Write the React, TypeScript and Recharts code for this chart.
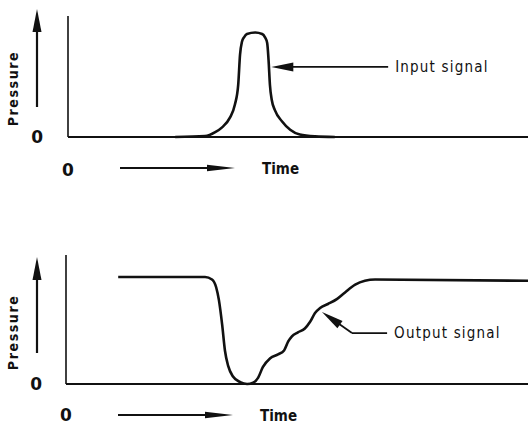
import React from 'react';
import { LineChart, Line, XAxis, YAxis, ReferenceLine } from 'recharts';

// ---- Data (time 0-100, pressure 0-100, arbitrary units) ----
const inputTime = [23.3, 29.8, 32.0, 33.5, 35.2, 36.3, 37.0, 37.4, 37.8, 38.3, 38.9, 40.7, 42.2, 42.8, 43.3, 43.6, 43.9, 44.3, 45.0, 46.5, 48.3, 50.4, 53.7, 58.0];
const inputPressure = [0, 0.8, 4, 8, 16, 27, 43, 68, 78.5, 82.6, 85.1, 86.4, 85.1, 82.6, 77.7, 63.6, 43, 30.6, 22, 13, 6, 2, 0.5, 0];

const outputTime = [11.3, 30.1, 31.6, 32.5, 33.1, 33.8, 34.4, 35.1, 36.1, 37.7, 39.2, 40.5, 41.6, 42.6, 44.2, 45.9, 47.2, 48.1, 48.9, 50.2, 51.7, 52.8, 53.9, 55.0, 56.7, 58.7, 60.4, 62.6, 64.7, 66.9, 100];
const outputPressure = [83, 83, 81, 75, 65, 46, 26, 14, 6, 1.5, 0, 1, 5, 13, 20, 23, 26, 33, 37, 40, 43, 48, 55, 59, 62, 66, 71, 77, 80, 81, 80];

const yTicks = [0];
const xTicks = [0];

const inputLabel = 'Input signal';
const outputLabel = 'Output signal';
const yLabel = 'Pressure';
const xLabel = 'Time';

const inputData = inputTime.map((t, i) => ({ t, p: inputPressure[i] }));
const outputData = outputTime.map((t, i) => ({ t, p: outputPressure[i] }));

const FONT = '"DejaVu Sans Condensed", "DejaVu Sans", sans-serif';
const INK = '#111';

function head(tx: number, ty: number, fx: number, fy: number, len: number, half: number) {
  const dx = tx - fx;
  const dy = ty - fy;
  const d = Math.sqrt(dx * dx + dy * dy) || 1;
  const ux = dx / d;
  const uy = dy / d;
  const bx = tx - ux * len;
  const by = ty - uy * len;
  const px = -uy * half;
  const py = ux * half;
  return `${tx},${ty} ${bx + px},${by + py} ${bx - px},${by - py}`;
}

function shorten(x1: number, y1: number, x2: number, y2: number, by: number) {
  const dx = x2 - x1;
  const dy = y2 - y1;
  const d = Math.sqrt(dx * dx + dy * dy) || 1;
  return { x: x2 - (dx / d) * by, y: y2 - (dy / d) * by };
}

function makeYLabel(arrowTop: number, arrowBottom: number) {
  return (props: any) => {
    const vb = props.viewBox || { x: 0, y: 0, width: 68, height: 120 };
    const cx = vb.x + 13;
    const cy = vb.y + vb.height * 0.6;
    const ax = vb.x + 37;
    const t = vb.y + arrowTop;
    const b = vb.y + arrowBottom;
    return (
      <g>
        <text
          x={cx}
          y={cy}
          transform={`rotate(-90 ${cx} ${cy})`}
          textAnchor="middle"
          dominantBaseline="central"
          fontFamily={FONT}
          fontWeight="bold"
          fontSize={14}
          letterSpacing={1.6}
          fill={INK}
        >
          {yLabel}
        </text>
        <line x1={ax} y1={b} x2={ax} y2={t + 15} stroke={INK} strokeWidth={2.2} />
        <polygon points={head(ax, t, ax, b, 23, 4.5)} fill={INK} />
      </g>
    );
  };
}

function XLabel(props: any) {
  const vb = props.viewBox || { x: 68, y: 137, width: 460, height: 60 };
  const y = vb.y + 31;
  const x1 = vb.x + 52;
  const x2 = vb.x + 167;
  return (
    <g>
      <line x1={x1} y1={y} x2={x2 - 20} y2={y} stroke={INK} strokeWidth={2} />
      <polygon points={head(x2, y, x1, y, 28, 3.2)} fill={INK} />
      <text
        x={vb.x + 194}
        y={y + 1}
        dominantBaseline="central"
        fontFamily={FONT}
        fontWeight="bold"
        fontSize={15}
        fill={INK}
      >
        {xLabel}
      </text>
    </g>
  );
}

function makeArrowShape(label: string | null, withHead: boolean) {
  return (props: any) => {
    const { x1, y1, x2, y2 } = props;
    if (x1 == null) return <g />;
    const end = withHead ? shorten(x1, y1, x2, y2, 18) : { x: x2, y: y2 };
    return (
      <g>
        <line x1={x1} y1={y1} x2={end.x} y2={end.y} stroke={INK} strokeWidth={1.8} />
        {withHead && <polygon points={head(x2, y2, x1, y1, 22, 4.5)} fill={INK} />}
        {label && (
          <text
            x={x1 + 7}
            y={y1}
            dominantBaseline="central"
            fontFamily={FONT}
            fontSize={15}
            letterSpacing={1.2}
            fill={INK}
          >
            {label}
          </text>
        )}
      </g>
    );
  };
}

const tickStyle = { fill: INK, fontSize: 17, fontWeight: 'bold' as const, fontFamily: '"DejaVu Sans", sans-serif' };

export default function App() {
  return (
    <div style={{ position: 'absolute', left: 0, top: 0, width: 528, height: 426, background: '#fff', overflow: 'hidden' }}>
      <div style={{ position: 'absolute', left: 0, top: 0 }}>
        <LineChart width={528} height={200} data={inputData} margin={{ top: 16, right: 0, left: 0, bottom: 3 }}>
          <XAxis
            type="number"
            dataKey="t"
            domain={[0, 100]}
            ticks={xTicks}
            tickSize={0}
            tickMargin={27}
            tickLine={false}
            axisLine={{ stroke: INK, strokeWidth: 2 }}
            tick={tickStyle}
            height={60}
            label={{ content: XLabel } as any}
          />
          <YAxis
            type="number"
            domain={[0, 100]}
            ticks={yTicks}
            tickSize={0}
            tickMargin={25}
            tickLine={false}
            axisLine={{ stroke: INK, strokeWidth: 1.6 }}
            tick={tickStyle}
            width={68}
            label={{ content: makeYLabel(-7, 91) } as any}
          />
          <Line type="monotone" dataKey="p" stroke={INK} strokeWidth={2.6} dot={false} isAnimationActive={false} />
          <ReferenceLine
            segment={[{ x: 69.6, y: 57.9 }, { x: 44.2, y: 57.9 }]}
            shape={makeArrowShape(inputLabel, true)}
          />
        </LineChart>
      </div>
      <div style={{ position: 'absolute', left: 0, top: 230 }}>
        <LineChart width={528} height={196} data={outputData} margin={{ top: 25, right: 0, left: 0, bottom: 0 }}>
          <XAxis
            type="number"
            dataKey="t"
            domain={[0, 100]}
            ticks={xTicks}
            tickSize={0}
            tickMargin={25}
            tickLine={false}
            axisLine={{ stroke: INK, strokeWidth: 2 }}
            tick={tickStyle}
            height={42}
            label={{ content: XLabel } as any}
          />
          <YAxis
            type="number"
            domain={[0, 100]}
            ticks={yTicks}
            tickSize={0}
            tickMargin={24}
            tickLine={false}
            axisLine={{ stroke: INK, strokeWidth: 1.6 }}
            tick={tickStyle}
            width={66}
            label={{ content: makeYLabel(2, 98) } as any}
          />
          <Line type="monotone" dataKey="p" stroke={INK} strokeWidth={2.6} dot={false} isAnimationActive={false} />
          <ReferenceLine
            segment={[{ x: 69.5, y: 39.5 }, { x: 61.9, y: 39.5 }]}
            shape={makeArrowShape(outputLabel, false)}
          />
          <ReferenceLine
            segment={[{ x: 61.9, y: 39.5 }, { x: 55.4, y: 55.8 }]}
            shape={makeArrowShape(null, true)}
          />
        </LineChart>
      </div>
    </div>
  );
}
